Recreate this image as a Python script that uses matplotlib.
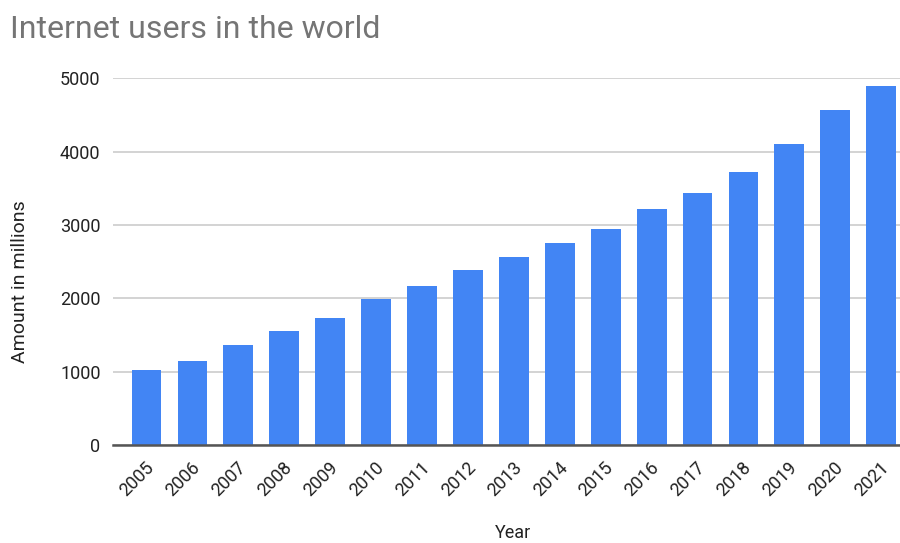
import matplotlib
matplotlib.use("Agg")
import matplotlib.pyplot as plt
from matplotlib.transforms import ScaledTranslation

years = ["2005", "2006", "2007", "2008", "2009", "2010", "2011", "2012", "2013",
         "2014", "2015", "2016", "2017", "2018", "2019", "2020", "2021"]
users = [1020, 1150, 1370, 1550, 1730, 1990, 2170, 2390, 2560,
         2750, 2950, 3220, 3440, 3720, 4100, 4565, 4900]
yticks = [0, 1000, 2000, 3000, 4000, 5000]

plt.rcParams['font.family'] = ['Roboto', 'DejaVu Sans']

W, H = 900, 543
fig = plt.figure(figsize=(W / 100, H / 100), dpi=100)
ax = fig.add_axes([113 / W, 1 - 445 / H, (900 - 113) / W, (445 - 78.3) / H])

x = list(range(len(years)))
ax.bar(x, users, width=0.65, color="#4285F4", zorder=3)

ax.set_xlim(-0.73, 16.41)
ax.set_ylim(0, 5000)
ax.set_yticks(yticks)
ax.set_yticklabels([str(v) for v in yticks], fontsize=13, color="#222222")
ax.yaxis.grid(True, color="#cccccc", linewidth=1.2, zorder=0)
ax.tick_params(axis="y", length=0, pad=9)
ax.axhline(0, color="#555555", linewidth=1.8, zorder=4, clip_on=False)

for s in ax.spines.values():
    s.set_visible(False)

ax.set_xticks(x)
ax.set_xticklabels(years, rotation=45, ha="right", va="center",
                   rotation_mode="anchor", fontsize=13, color="#222222")
ax.tick_params(axis="x", length=0, pad=14)
off = ScaledTranslation(5 / 100, 0, fig.dpi_scale_trans)
for lab in ax.get_xticklabels():
    lab.set_transform(lab.get_transform() + off)

fig.text(513 / W, 1 - 533 / H, "Year", fontsize=13, color="#222222",
         ha="center", va="center")
fig.text(20 / W, 1 - 281.5 / H, "Amount in millions", fontsize=14,
         color="#222222", ha="center", va="center", rotation=90)

fig.text(10 / W, 1 - 30 / H, "Internet users in the world", fontsize=23,
         color="#757575", ha="left", va="center")

fig.savefig("out.png", dpi=100)
